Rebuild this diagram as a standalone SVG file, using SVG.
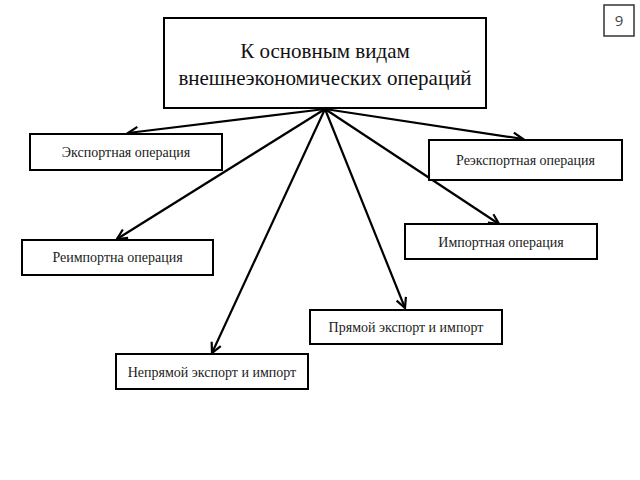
<svg xmlns="http://www.w3.org/2000/svg" width="640" height="480" viewBox="0 0 640 480">
<defs>
<style>
.box{fill:#fff;stroke:#000;stroke-width:2}
.t{font-family:'Liberation Serif','Times New Roman','DejaVu Serif',serif;font-size:14px;fill:#222;text-anchor:middle}
.tt{font-family:'Liberation Serif','Times New Roman','DejaVu Serif',serif;font-size:21px;fill:#111;text-anchor:middle}
.c{stroke:#000;stroke-width:2.2;fill:none}
</style>
<marker id="ah" markerWidth="14" markerHeight="14" refX="12" refY="7" orient="auto" markerUnits="userSpaceOnUse">
<path d="M2,2 L12,7 L2,12" fill="none" stroke="#000" stroke-width="2.2"/>
</marker>
</defs>
<rect width="640" height="480" fill="#fff"/>
<g id="page-num">
<rect x="604" y="5" width="30" height="31" fill="#fff" stroke="#333" stroke-width="1.5"/>
<text x="619" y="26" font-family="'Open Sans','DejaVu Sans',sans-serif" font-size="15" fill="#444" text-anchor="middle">9</text>
</g>
<g id="connectors">
<line class="c" x1="325" y1="109" x2="128" y2="133" marker-end="url(#ah)"/>
<line class="c" x1="325" y1="109" x2="117" y2="239" marker-end="url(#ah)"/>
<line class="c" x1="325" y1="109" x2="212" y2="353" marker-end="url(#ah)"/>
<line class="c" x1="325" y1="109" x2="405" y2="308" marker-end="url(#ah)"/>
<line class="c" x1="325" y1="109" x2="499" y2="224" marker-end="url(#ah)"/>
<line class="c" x1="325" y1="109" x2="523" y2="139" marker-end="url(#ah)"/>
</g>
<g id="root">
<rect class="box" x="164" y="18" width="322" height="90"/>
<text class="tt" x="325" y="58">К основным видам</text>
<text class="tt" x="325" y="85">внешнеэкономических операций</text>
</g>
<g id="export">
<rect class="box" x="30" y="134" width="192" height="36"/>
<text class="t" x="126" y="157">Экспортная операция</text>
</g>
<g id="reimport">
<rect class="box" x="22" y="240" width="191" height="35"/>
<text class="t" x="117.5" y="262">Реимпортна операция</text>
</g>
<g id="reexport">
<rect class="box" x="429" y="140" width="193" height="40"/>
<text class="t" x="525.5" y="165">Реэкспортная операция</text>
</g>
<g id="import">
<rect class="box" x="405" y="224" width="192" height="35"/>
<text class="t" x="501" y="247">Импортная операция</text>
</g>
<g id="direct">
<rect class="box" x="310" y="310" width="192" height="34"/>
<text class="t" x="406" y="332">Прямой экспорт и импорт</text>
</g>
<g id="indirect">
<rect class="box" x="116" y="354" width="192" height="35"/>
<text class="t" x="212" y="377">Непрямой экспорт и импорт</text>
</g>
</svg>
